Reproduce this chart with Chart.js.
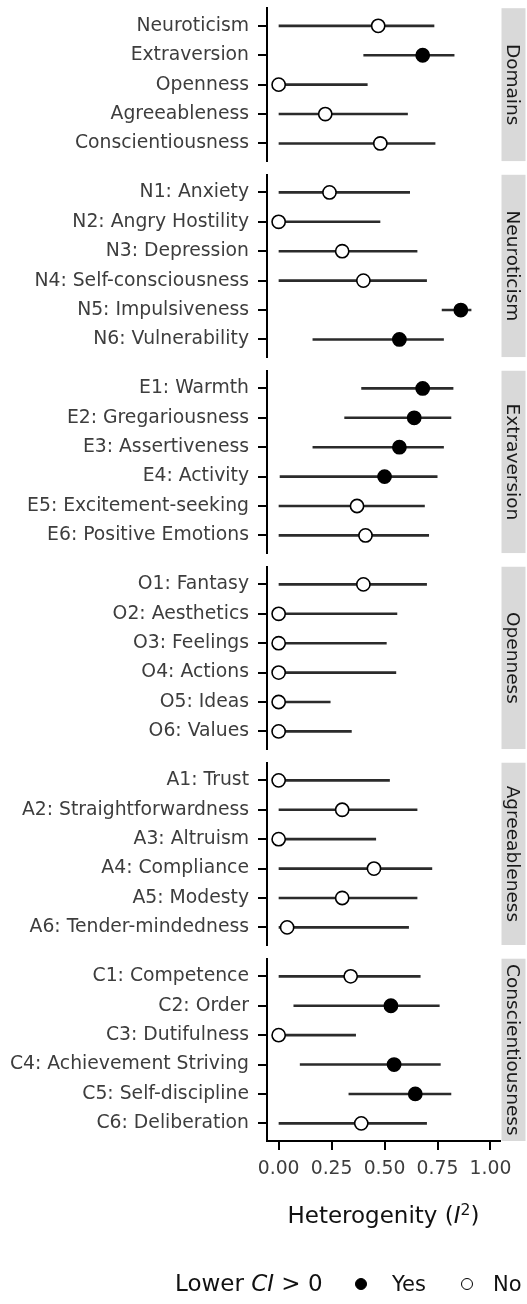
<!DOCTYPE html>
<html>
<head>
<meta charset="utf-8">
<script src="https://cdn.jsdelivr.net/npm/chart.js@4.4.1/dist/chart.umd.min.js"></script>
<style>
html, body { margin: 0; padding: 0; background: #fff; }
#wrap { position: relative; width: 527px; height: 1304px; overflow: hidden; }
#c { position: absolute; left: 0; top: 0; }
.txt { position: absolute; font-family: 'DejaVu Sans'; white-space: nowrap; color: #111; line-height: 28px; }
.sup { font-size: 0.68em; position: relative; top: -0.5em; }
.dot { position: absolute; width: 10px; height: 10px; border-radius: 50%; border: 1.5px solid #000; box-sizing: content-box; }
</style>
</head>
<body>
<div id="wrap">
  <canvas id="c" width="527" height="1304"></canvas>
  <div id="xtitle" class="txt" style="left:267px; width:233px; text-align:center; top:1201px; font-size:23px;">Heterogenity (<i>I</i><span class="sup">2</span>)</div>
  <div id="legend"></div>
</div>
<script>
// ---------------- data ----------------
const panelNames = ['Domains', 'Neuroticism', 'Extraversion', 'Openness', 'Agreeableness', 'Conscientiousness'];

const domainLabels = ['Neuroticism', 'Extraversion', 'Openness', 'Agreeableness', 'Conscientiousness'];
const domainEst  = [0.47, 0.68, 0.00, 0.22, 0.48];
const domainLow  = [0.00, 0.40, 0.00, 0.00, 0.00];
const domainHigh = [0.735, 0.83, 0.42, 0.61, 0.74];
const domainSig  = [false, true, false, false, false];

const neuroLabels = ['N1: Anxiety', 'N2: Angry Hostility', 'N3: Depression', 'N4: Self-consciousness', 'N5: Impulsiveness', 'N6: Vulnerability'];
const neuroEst  = [0.24, 0.00, 0.30, 0.40, 0.86, 0.57];
const neuroLow  = [0.00, 0.00, 0.00, 0.00, 0.77, 0.16];
const neuroHigh = [0.62, 0.48, 0.655, 0.70, 0.91, 0.78];
const neuroSig  = [false, false, false, false, true, true];

const extraLabels = ['E1: Warmth', 'E2: Gregariousness', 'E3: Assertiveness', 'E4: Activity', 'E5: Excitement-seeking', 'E6: Positive Emotions'];
const extraEst  = [0.68, 0.64, 0.57, 0.50, 0.37, 0.41];
const extraLow  = [0.39, 0.31, 0.16, 0.005, 0.00, 0.00];
const extraHigh = [0.825, 0.815, 0.78, 0.75, 0.69, 0.71];
const extraSig  = [true, true, true, true, false, false];

const openLabels = ['O1: Fantasy', 'O2: Aesthetics', 'O3: Feelings', 'O4: Actions', 'O5: Ideas', 'O6: Values'];
const openEst  = [0.40, 0.00, 0.00, 0.00, 0.00, 0.00];
const openLow  = [0.00, 0.00, 0.00, 0.00, 0.00, 0.00];
const openHigh = [0.70, 0.56, 0.51, 0.555, 0.245, 0.345];
const openSig  = [false, false, false, false, false, false];

const agreeLabels = ['A1: Trust', 'A2: Straightforwardness', 'A3: Altruism', 'A4: Compliance', 'A5: Modesty', 'A6: Tender-mindedness'];
const agreeEst  = [0.00, 0.30, 0.00, 0.45, 0.30, 0.04];
const agreeLow  = [0.00, 0.00, 0.00, 0.00, 0.00, 0.00];
const agreeHigh = [0.525, 0.655, 0.46, 0.725, 0.655, 0.615];
const agreeSig  = [false, false, false, false, false, false];

const consLabels = ['C1: Competence', 'C2: Order', 'C3: Dutifulness', 'C4: Achievement Striving', 'C5: Self-discipline', 'C6: Deliberation'];
const consEst  = [0.34, 0.53, 0.00, 0.545, 0.645, 0.39];
const consLow  = [0.00, 0.07, 0.00, 0.10, 0.33, 0.00];
const consHigh = [0.67, 0.76, 0.365, 0.765, 0.815, 0.70];
const consSig  = [false, true, false, true, true, false];

const xTickValues = [0, 0.25, 0.5, 0.75, 1];
const xTickLabels = ['0.00', '0.25', '0.50', '0.75', '1.00'];
const legendLabels = ['Yes', 'No'];

// ---------------- build ----------------
const panels = [
  { name: panelNames[0], labels: domainLabels, est: domainEst, low: domainLow, high: domainHigh, sig: domainSig },
  { name: panelNames[1], labels: neuroLabels,  est: neuroEst,  low: neuroLow,  high: neuroHigh,  sig: neuroSig },
  { name: panelNames[2], labels: extraLabels,  est: extraEst,  low: extraLow,  high: extraHigh,  sig: extraSig },
  { name: panelNames[3], labels: openLabels,   est: openEst,   low: openLow,   high: openHigh,   sig: openSig },
  { name: panelNames[4], labels: agreeLabels,  est: agreeEst,  low: agreeLow,  high: agreeHigh,  sig: agreeSig },
  { name: panelNames[5], labels: consLabels,   est: consEst,   low: consLow,   high: consHigh,   sig: consSig }
];

const FONT = 'DejaVu Sans';
Chart.defaults.font.family = FONT;
const tickFont = { family: FONT, size: 18.8 };
const LEFT_W = 267, RIGHT_W = 27, GAP_W = 0.466;

function noPad(s) { s.paddingTop = 0; s.paddingBottom = 0; s.paddingLeft = 0; s.paddingRight = 0; }

const scales = {
  x: {
    type: 'linear', position: 'bottom', min: -0.055, max: 1.045,
    afterFit: s => { s.height = 163; noPad(s); },
    afterBuildTicks: s => { s.ticks = xTickValues.map(v => ({ value: v })); },
    ticks: { callback: v => xTickLabels[xTickValues.indexOf(v)], autoSkip: false, maxRotation: 0, padding: 8, color: '#3d3d3d', font: tickFont },
    grid: { display: true, drawOnChartArea: false, drawTicks: true, tickLength: 9, color: '#000', lineWidth: 2 },
    border: { display: true, color: '#000', width: 2 }
  }
};
const datasets = [];
let slot = 0;
panels.forEach((p, k) => {
  const n = p.labels.length;
  const w = n - 1 + 1.2;
  scales['y' + k] = {
    type: 'linear', position: 'left', stack: 'panels', stackWeight: w, weight: 100 - slot,
    reverse: true, min: -0.6, max: n - 1 + 0.6,
    afterFit: s => { s.width = LEFT_W; noPad(s); },
    afterBuildTicks: s => { s.ticks = p.labels.map((_, i) => ({ value: i })); },
    ticks: { callback: v => p.labels[v], autoSkip: false, padding: 9, color: '#3d3d3d', font: tickFont },
    grid: { display: true, drawOnChartArea: false, drawTicks: true, tickLength: 9, color: '#000', lineWidth: 2 },
    border: { display: true, color: '#000', width: 2 }
  };
  scales['s' + k] = {
    type: 'linear', position: 'right', stack: 'strips', stackWeight: w, weight: slot,
    afterFit: s => { s.width = RIGHT_W; noPad(s); },
    ticks: { display: false }, grid: { display: false }, border: { display: false },
    title: { display: true, text: p.name, color: '#1a1a1a', font: { family: FONT, size: 18.5 }, padding: { top: 4, bottom: 0 } }
  };
  slot++;
  if (k < panels.length - 1) {
    scales['g' + k] = { type: 'linear', position: 'left', stack: 'panels', stackWeight: GAP_W, weight: 100 - slot, display: false, afterFit: s => { s.width = LEFT_W; noPad(s); } };
    scales['h' + k] = { type: 'linear', position: 'right', stack: 'strips', stackWeight: GAP_W, weight: slot, display: false, afterFit: s => { s.width = RIGHT_W; noPad(s); } };
    slot++;
  }

  datasets.push({
    type: 'scatter', label: p.name, yAxisID: 'y' + k, xAxisID: 'x', order: 0,
    data: p.est.map((v, i) => ({ x: v, y: i })),
    pointRadius: 6.6, pointBorderWidth: 1.6, pointBorderColor: '#000',
    pointBackgroundColor: p.sig.map(s => s ? '#000' : '#fff'), showLine: false
  });
  const seg = [];
  p.low.forEach((lo, i) => { seg.push({ x: lo, y: i }, { x: p.high[i], y: i }, { x: null, y: null }); });
  datasets.push({
    type: 'line', label: p.name + ' CI', yAxisID: 'y' + k, xAxisID: 'x', order: 1,
    data: seg, borderColor: '#2b2b2b', borderWidth: 2.6, borderCapStyle: 'butt',
    pointRadius: 0, spanGaps: false, fill: false, tension: 0
  });
});

const stripBg = {
  id: 'stripBg',
  beforeDraw(chart) {
    const ctx = chart.ctx;
    ctx.save();
    ctx.fillStyle = '#d9d9d9';
    panels.forEach((p, k) => {
      const s = chart.scales['s' + k];
      ctx.fillRect(s.left + 1.5, s.top, 24, s.bottom - s.top);
    });
    ctx.restore();
  }
};

new Chart(document.getElementById('c'), {
  type: 'scatter',
  data: { datasets },
  options: {
    responsive: false, animation: false, events: [],
    layout: { padding: { top: 7, right: 0, bottom: 0, left: 0 } },
    scales,
    plugins: { legend: { display: false }, tooltip: { enabled: false } }
  },
  plugins: [stripBg]
});

// HTML legend (title with italic CI + Yes/No keys)
const legend = document.getElementById('legend');
const lt = document.createElement('div');
lt.className = 'txt';
lt.style.cssText = 'left:175px; top:1269px; font-size:23px;';
lt.innerHTML = 'Lower <i>CI</i> &gt; 0';
legend.appendChild(lt);
const keyX = [361, 467], textX = [392, 493];
legendLabels.forEach((lab, i) => {
  const d = document.createElement('div');
  d.className = 'dot';
  d.style.left = (keyX[i] - 6.5) + 'px';
  d.style.top = (1284 - 6.5) + 'px';
  d.style.background = i === 0 ? '#000' : '#fff';
  legend.appendChild(d);
  const t = document.createElement('div');
  t.className = 'txt';
  t.style.cssText = 'left:' + textX[i] + 'px; top:1270px; font-size:21px;';
  t.textContent = lab;
  legend.appendChild(t);
});
</script>
</body>
</html>
